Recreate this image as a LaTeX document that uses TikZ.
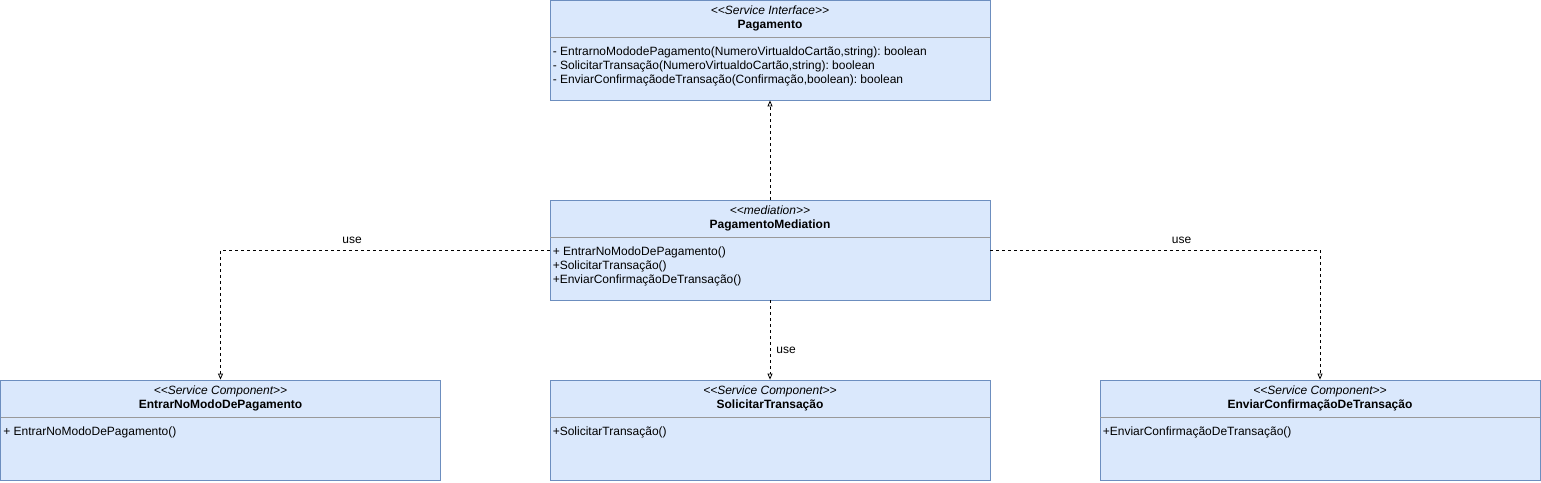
\documentclass[tikz,border=0pt]{standalone}
\usepackage{fontspec}
\setmainfont{Liberation Sans}
\frenchspacing
\usetikzlibrary{positioning,calc,arrows.meta}
\definecolor{boxfill}{HTML}{DAE8FC}
\definecolor{boxline}{HTML}{6C8EBF}
\definecolor{divline}{HTML}{999999}
\tikzset{
	classbox/.style={draw=boxline, fill=boxfill, line width=0.8pt, minimum width=440pt, minimum height=100pt, inner sep=0pt},
	stereo/.style={font=\fontsize{12}{14}\selectfont\itshape, anchor=base, inner sep=0pt},
	ctitle/.style={font=\fontsize{12}{14}\selectfont\bfseries, anchor=base, inner sep=0pt},
	member/.style={font=\fontsize{12}{14}\selectfont, anchor=base west, inner sep=0pt},
	uses/.style={dashed, dash pattern=on 3pt off 3pt, line width=0.8pt, -{Triangle[open,length=6pt,width=5pt]}},
	ulabel/.style={font=\fontsize{12}{14}\selectfont, inner sep=0pt}
}

\begin{document}
\begin{tikzpicture}[x=1pt, y=-1pt]
	\useasboundingbox (0,0) rectangle (1541,482);
	% classes
	\node [classbox] (pag) at (770,50) {};
	\node [classbox] (med) at (770,250) {};
	\node [classbox] (ent) at (220.5,430) {};
	\node [classbox] (sol) at (770,430) {};
	\node [classbox] (env) at (1320,430) {};
	\foreach \c/\s/\t in {pag/{Service Interface}/Pagamento,
			med/{mediation}/PagamentoMediation,
			ent/{Service Component}/EntrarNoModoDePagamento,
			sol/{Service Component}/SolicitarTransação,
			env/{Service Component}/EnviarConfirmaçãoDeTransação} {
		\node [stereo] (\c-st) at ($(\c.north)+(0,14.5)$) {{<}{<}\s{>}{>}};
		\node [ctitle] (\c-ti) at ($(\c.north)+(0,29)$) {\t};
		\draw [divline] ($(\c.north west)+(0.5,38)$) -- ($(\c.north east)+(-0.5,38)$);
	}
	% members, one node per line
	\foreach \l [count=\i] in {{- EntrarnoMododePagamento(NumeroVirtualdoCartão,string): boolean},
			{- SolicitarTransação(NumeroVirtualdoCartão,string): boolean},
			{- EnviarConfirmaçãodeTransação(Confirmação,boolean): boolean}}
		\node [member] (pag-m\i) at ($(pag.north west)+(3,41.5+14*\i)$) {\l};
	\foreach \l [count=\i] in {+ EntrarNoModoDePagamento(), +SolicitarTransação(), +EnviarConfirmaçãoDeTransação()}
		\node [member] (med-m\i) at ($(med.north west)+(3,41.5+14*\i)$) {\l};
	\node [member] (ent-m1) at ($(ent.north west)+(3,55.5)$) {+ EntrarNoModoDePagamento()};
	\node [member] (sol-m1) at ($(sol.north west)+(3,55.5)$) {+SolicitarTransação()};
	\node [member] (env-m1) at ($(env.north west)+(3,55.5)$) {+EnviarConfirmaçãoDeTransação()};
	% connectors
	\draw [uses] (med.north) -- (pag.south);
	\draw [uses] (med.west) -| (ent.north)
		node [ulabel, pos=0.3, anchor=base, yshift=6.5pt] {use};
	\draw [uses] (med.east) -| (env.north)
		node [ulabel, pos=0.29, anchor=base, yshift=6.5pt] {use};
	\draw [uses] (med.south) -- (sol.north)
		node [ulabel, pos=0.67, anchor=base west, xshift=6pt] {use};
\end{tikzpicture}
\end{document}
